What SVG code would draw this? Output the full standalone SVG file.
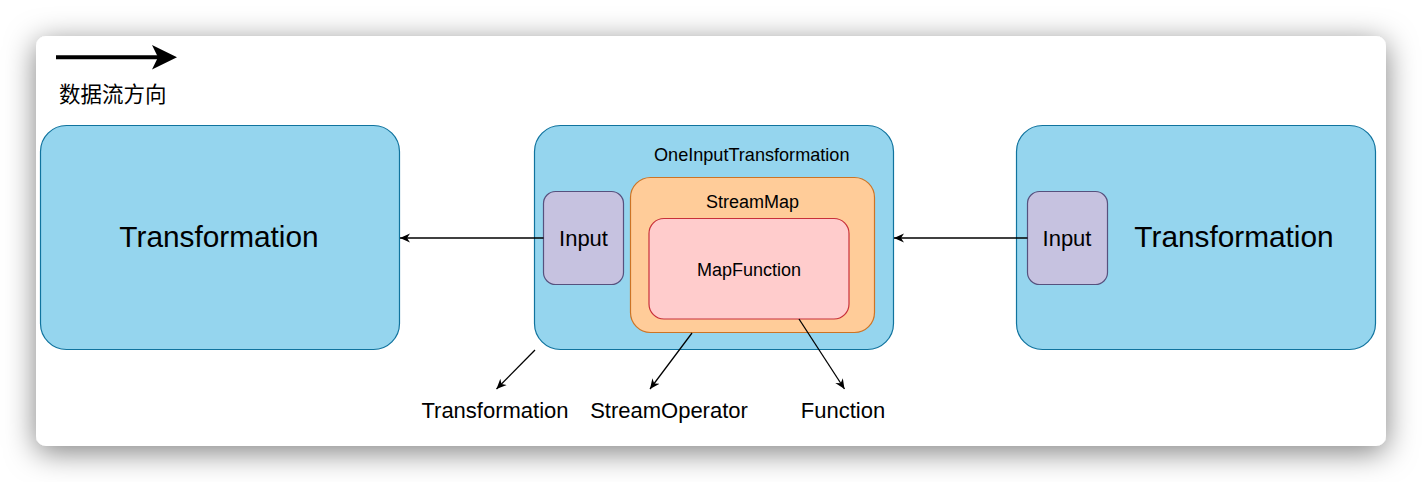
<svg xmlns="http://www.w3.org/2000/svg" width="1422" height="482" viewBox="0 0 1422 482">
  <style>
    text { font-family: "Liberation Sans", Arial, "Noto Sans CJK SC", sans-serif; fill: #000; }
    .blue { fill: #95d5ee; stroke: #10739e; stroke-width: 1.2; }
    .purple { fill: #c6c2e0; stroke: #56517e; stroke-width: 1.2; }
    .orange { fill: #ffcc99; stroke: #cc7425; stroke-width: 1.2; }
    .pink { fill: #ffcccc; stroke: #c8303a; stroke-width: 1.2; }
    .edge { fill: none; stroke: #000; stroke-width: 1.3; marker-end: url(#arr); }
    .mid { text-anchor: middle; }
  </style>
  <defs>
    <filter id="shadow" x="-10%" y="-30%" width="120%" height="160%">
      <feDropShadow dx="0" dy="6" stdDeviation="15" flood-color="#000" flood-opacity="0.5"/>
    </filter>
    <marker id="arr" viewBox="0 0 10 10" refX="10" refY="5" markerWidth="10" markerHeight="10" markerUnits="userSpaceOnUse" orient="auto">
      <path d="M10,5 L0,0.5 L3,5 L0,9.5 Z" fill="#000"/>
    </marker>
  </defs>

  <rect x="0" y="0" width="1422" height="482" fill="#ffffff"/>
  <rect id="card" x="36" y="36" width="1350" height="410" rx="10" fill="#ffffff" filter="url(#shadow)"/>

  <g id="legend">
    <line x1="56" y1="57.3" x2="158" y2="57.3" stroke="#000" stroke-width="4"/>
    <polygon points="177,57.3 152,45 158,57.3 152,69.5" fill="#000"/>
    <text x="59" y="102" font-size="21.5">数据流方向</text>
  </g>

  <g id="left-transformation">
    <rect class="blue" x="40.5" y="125.5" width="359" height="224" rx="26"/>
    <text class="mid" x="219" y="247" font-size="29.8">Transformation</text>
  </g>

  <g id="one-input-transformation">
    <rect class="blue" x="534.5" y="125.5" width="359" height="224" rx="26"/>
    <text x="654" y="160.5" font-size="18.1">OneInputTransformation</text>
  </g>

  <g id="middle-input">
    <rect class="purple" x="543.5" y="191.5" width="80" height="93" rx="12"/>
    <text class="mid" x="583.5" y="245.5" font-size="22">Input</text>
  </g>

  <g id="stream-map">
    <rect class="orange" x="630.5" y="177.5" width="244" height="155" rx="20"/>
    <text class="mid" x="752.5" y="207.5" font-size="18">StreamMap</text>
  </g>

  <g id="map-function">
    <rect class="pink" x="649" y="218.5" width="200" height="100.5" rx="15"/>
    <text class="mid" x="749" y="276" font-size="18">MapFunction</text>
  </g>

  <g id="right-transformation">
    <rect class="blue" x="1016.5" y="125.5" width="359" height="224" rx="26"/>
    <text class="mid" x="1234" y="247" font-size="29.8">Transformation</text>
  </g>

  <g id="right-input">
    <rect class="purple" x="1027.5" y="191.5" width="80" height="93" rx="12"/>
    <text class="mid" x="1067" y="245.5" font-size="22">Input</text>
  </g>

  <g id="labels">
    <text class="mid" x="495" y="418" font-size="22">Transformation</text>
    <text class="mid" x="669" y="418" font-size="22">StreamOperator</text>
    <text class="mid" x="843" y="418" font-size="22">Function</text>
  </g>

  <g id="connectors">
    <line class="edge" x1="1027.5" y1="238" x2="894" y2="238"/>
    <line class="edge" x1="543.5" y1="238" x2="400" y2="238"/>
    <line class="edge" x1="535" y1="350" x2="496.5" y2="389"/>
    <line class="edge" x1="692" y1="333" x2="650" y2="389"/>
    <line class="edge" x1="799" y1="319" x2="844.5" y2="389"/>
  </g>
</svg>
